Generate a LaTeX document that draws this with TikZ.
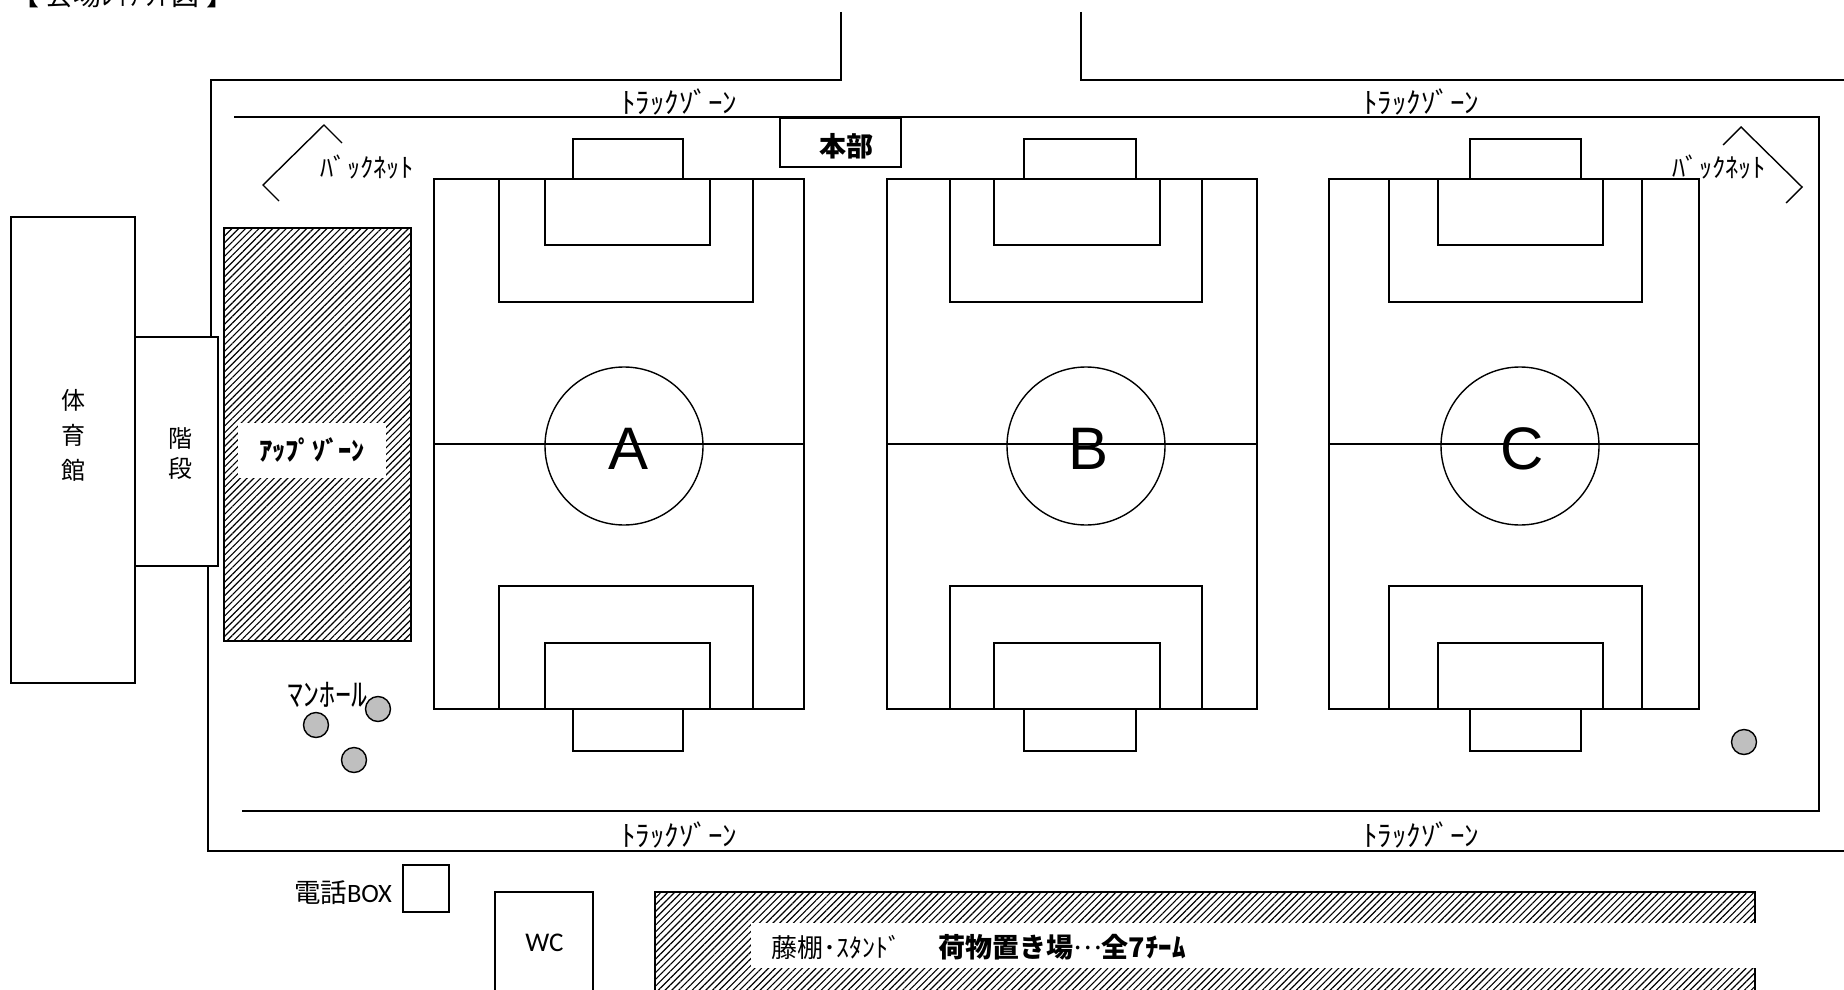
\documentclass[tikz,border=0pt]{standalone}
\usepackage{fontspec}
\usepackage{tikz}
\usetikzlibrary{patterns.meta}
\setmainfont{Noto Sans CJK JP}
\newfontfamily\arialfont{Liberation Sans}
\newfontfamily\calibrifont{Carlito}
\tikzset{
	wall/.style={line width=1.4pt},
	hatchzone/.style={line width=1.4pt, pattern={Lines[angle=45, distance=4.8pt, line width=1.15pt]}},
	manhole/.style={circle, draw, line width=1.4pt, fill=black!25, minimum size=25pt, inner sep=0pt},
	zonetext/.style={inner sep=0pt, font=\fontsize{29}{30}\selectfont},
	nettext/.style={inner sep=0pt, font=\fontsize{26.5}{28}\selectfont},
	tatetext/.style={inner sep=0pt, font=\fontsize{24}{26}\selectfont},
	whitelabel/.style={fill=white, inner sep=0pt},
	fieldletter/.style={inner sep=0pt, font=\fontsize{60}{60}\selectfont\arialfont}
}
\begin{document}
\begin{tikzpicture}[x=1pt, y=-1pt]
	\useasboundingbox (0, 0) rectangle (1844, 990);
	% track
	\draw[wall] (841, 12) -- (841, 80) -- (211, 80) -- (211, 337);
	\draw[wall] (1081, 12) -- (1081, 80) -- (1844, 80);
	\draw[wall] (208, 566) -- (208, 851) -- (1844, 851);
	\draw[wall] (234, 117) -- (1819, 117) -- (1819, 811) -- (242, 811);
	% buildings
	\draw[wall] (11, 217) rectangle (135, 683);
	\draw[wall] (135, 337) rectangle (218, 566);
	\node (gymA) [tatetext] at (73, 400) {体};
	\node (gymB) [tatetext] at (73, 435) {育};
	\node (gymC) [tatetext] at (73, 470) {館};
	\node (stairsA) [tatetext] at (180, 439) {階};
	\node (stairsB) [tatetext] at (180, 468) {段};
	% fields
	\foreach \nm/\fl/\pl/\pr/\al/\ar/\gl/\gr/\cx/\tx in {
		A/434/499/753/545/710/573/683/624/629,
		B/887/950/1202/994/1160/1024/1136/1086/1088,
		C/1329/1389/1642/1438/1603/1470/1581/1520/1522} {
		\draw[wall] (\fl, 179) rectangle ++(370, 530);
		\draw[wall] (\fl, 444) -- ++(370, 0);
		\draw[wall] (\pl, 179) rectangle (\pr, 302);
		\draw[wall] (\pl, 586) rectangle (\pr, 709);
		\draw[wall] (\al, 179) rectangle (\ar, 245);
		\draw[wall] (\al, 643) rectangle (\ar, 709);
		\draw[wall] (\gl, 139) rectangle (\gr, 179);
		\draw[wall] (\gl, 709) rectangle (\gr, 751);
		\draw[wall] (\cx, 446) circle (79);
		\node (field\nm) [fieldletter] at (\tx, 449) {\nm};
	}
	% warm up zone
	\draw[hatchzone] (224, 228) rectangle (411, 641);
	\node (upzone) [whitelabel, minimum width=148pt, minimum height=55pt, font=\fontsize{26.5}{28}\selectfont\bfseries] at (312, 450) {ｱｯﾌﾟｿﾞｰﾝ};
	% back nets
	\draw[wall] (279, 201) -- (263, 185) -- (324, 125) -- (342, 143);
	\draw[wall] (1723, 145) -- (1741, 127) -- (1802, 187) -- (1786, 203);
	\node (netL) [nettext] at (367, 167) {ﾊﾞｯｸﾈｯﾄ};
	\node (netR) [nettext] at (1719, 167) {ﾊﾞｯｸﾈｯﾄ};
	% track labels
	\node (trackA) [zonetext] at (679, 102) {ﾄﾗｯｸｿﾞｰﾝ};
	\node (trackB) [zonetext] at (1421, 102) {ﾄﾗｯｸｿﾞｰﾝ};
	\node (trackC) [zonetext] at (679, 835) {ﾄﾗｯｸｿﾞｰﾝ};
	\node (trackD) [zonetext] at (1421, 835) {ﾄﾗｯｸｿﾞｰﾝ};
	% head office
	\node (honbubox) [draw, line width=1.4pt, minimum width=121pt, minimum height=49pt, inner sep=0pt] at (840.5, 142.5) {};
	\node (honbu) [inner sep=0pt, font=\fontsize{27}{29}\selectfont\bfseries] at (846, 146) {本部};
	% manholes
	\node (holeA) [manhole] at (378, 709) {};
	\node (holeB) [manhole] at (316, 725) {};
	\node (holeC) [manhole] at (354, 760) {};
	\node (holeD) [manhole] at (1744, 742) {};
	\node (holetext) [inner sep=0pt, font=\fontsize{32}{34}\selectfont] at (327, 695) {ﾏﾝﾎｰﾙ};
	% below the track
	\node (phonetext) [inner sep=0pt, font=\fontsize{26.5}{28}\selectfont] at (343, 893) {電話{\calibrifont BOX}};
	\node (phonebox) [draw, line width=1.4pt, minimum width=46pt, minimum height=47pt, inner sep=0pt] at (426, 888.5) {};
	\draw[wall] (495, 1000) -- (495, 892) -- (593, 892) -- (593, 1000);
	\node (wc) [inner sep=0pt, font=\fontsize{27}{29}\selectfont\calibrifont] at (544.5, 943) {WC};
	\draw[hatchzone] (655, 892) rectangle (1755, 1000);
	\node (storebox) [whitelabel, minimum width=1006pt, minimum height=45pt] at (1254, 945.5) {};
	\node (storeA) [inner sep=0pt, font=\fontsize{26}{28}\selectfont] at (836, 947) {藤棚･ｽﾀﾝﾄﾞ};
	\node (storeB) [inner sep=0pt, font=\fontsize{27}{29}\selectfont\bfseries] at (1062, 947) {荷物置き場\raisebox{8pt}{\mdseries …}全7ﾁｰﾑ};
	% title
	\node (title) [inner sep=0pt, font=\fontsize{28}{30}\selectfont] at (123, -5) {【 会場ﾚｲｱｳﾄ図 】};
\end{tikzpicture}
\end{document}
